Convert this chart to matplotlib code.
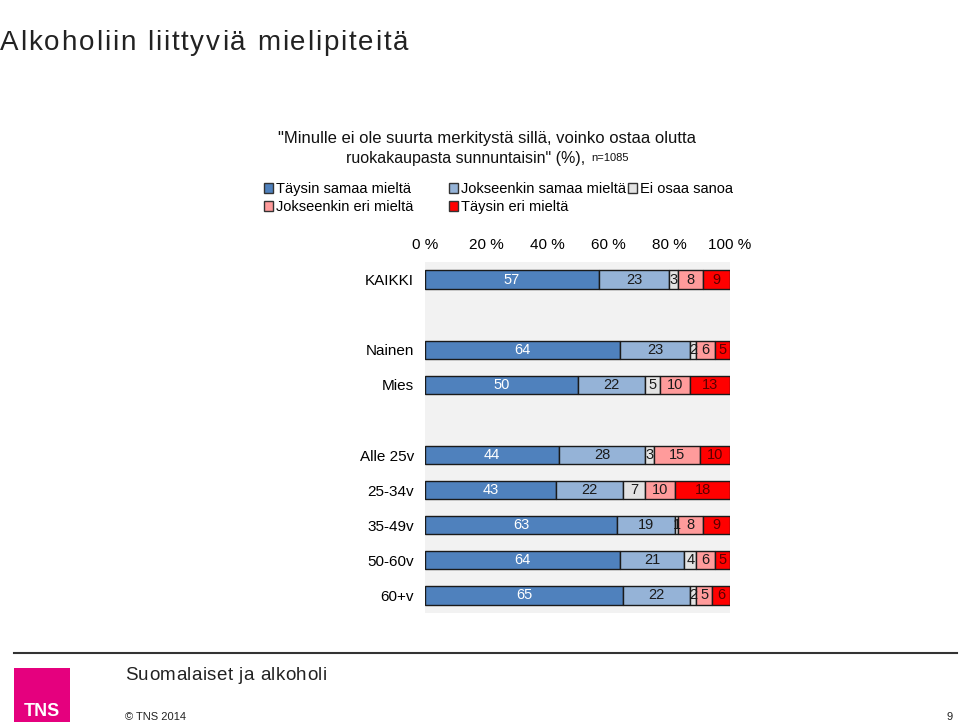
import matplotlib
matplotlib.use("Agg")
import matplotlib.pyplot as plt
from matplotlib.patches import Rectangle
import numpy as np

plt.rcParams["font.family"] = ["Liberation Sans", "DejaVu Sans"]

categories = ["KAIKKI", "", "Nainen", "Mies", "", "Alle 25v", "25-34v", "35-49v", "50-60v", "60+v"]
series_names = ["Täysin samaa mieltä", "Jokseenkin samaa mieltä", "Ei osaa sanoa",
                "Jokseenkin eri mieltä", "Täysin eri mieltä"]
taysin_samaa = [57, None, 64, 50, None, 44, 43, 63, 64, 65]
jokseenkin_samaa = [23, None, 23, 22, None, 28, 22, 19, 21, 22]
ei_osaa = [3, None, 2, 5, None, 3, 7, 1, 4, 2]
jokseenkin_eri = [8, None, 6, 10, None, 15, 10, 8, 6, 5]
taysin_eri = [9, None, 5, 13, None, 10, 18, 9, 5, 6]
xticks = [0, 20, 40, 60, 80, 100]

colors = ["#4F81BD", "#95B3D7", "#E3E3E3", "#FF9B9B", "#FF0000"]
text_colors = ["white", "#1a1a1a", "#1a1a1a", "#1a1a1a", "#5a0000"]

fig = plt.figure(figsize=(9.6, 7.24), dpi=100)
ax = fig.add_axes([425/960, 1-613/724, 305/960, 351/724])
ax.set_facecolor("#F2F2F2")

series = [taysin_samaa, jokseenkin_samaa, ei_osaa, jokseenkin_eri, taysin_eri]
y = np.arange(len(categories))
for i, cat in enumerate(categories):
    if taysin_samaa[i] is None:
        continue
    vals = [s[i] for s in series]
    total = sum(vals)
    left = 0.0
    for j, v in enumerate(vals):
        w = v / total * 100
        ax.barh(y[i], w, left=left, height=0.52, color=colors[j],
                edgecolor="#1a1a1a", linewidth=1.0)
        ax.text(left + w/2, y[i], str(v), ha="center", va="center",
                fontsize=10.5, color=text_colors[j])
        left += w

ax.set_xlim(0, 100)
ax.set_ylim(len(categories) - 0.5, -0.5)
ax.set_yticks([k for k, c in enumerate(categories) if c])
ax.set_yticklabels([c for c in categories if c], fontsize=11)
ax.set_xticks(xticks)
ax.set_xticklabels([f"{t} %" for t in xticks], fontsize=11)
ax.xaxis.tick_top()
ax.tick_params(length=0)
ax.tick_params(axis="x", pad=7)
ax.tick_params(axis="y", pad=8)
for s in ax.spines.values():
    s.set_visible(False)

# legend
handles = [Rectangle((0, 0), 1, 1, facecolor=c, edgecolor="#333333", linewidth=1) for c in colors]
order = [0, 3, 1, 4]
leg_kw = dict(frameon=False, fontsize=10.5, handlelength=0.65, handleheight=0.65,
              handletextpad=0.2, labelspacing=0.3, borderpad=0, borderaxespad=0)
fig.legend([handles[k] for k in order], [series_names[k] for k in order],
           loc="upper left", bbox_to_anchor=(264/960, 1-182/724), ncol=2,
           columnspacing=2.4, **leg_kw)
fig.legend([handles[2]], [series_names[2]],
           loc="upper left", bbox_to_anchor=(628/960, 1-182/724), ncol=1, **leg_kw)

# letter-spaced text helper
fig.canvas.draw()
renderer = fig.canvas.get_renderer()

def spaced_text(x_px, y_px, s, size, spacing_px, color="#222222"):
    x = x_px
    for ch in s:
        t = fig.text(x / 960, 1 - y_px / 724, ch, fontsize=size, color=color,
                     ha="left", va="center")
        bb = t.get_window_extent(renderer)
        if ch == " ":
            w = size * 100 / 72 * 0.28
        else:
            w = bb.width
        x += w + spacing_px

spaced_text(0, 43, "Alkoholiin liittyviä mielipiteitä", 20, 1.85)
spaced_text(125, 675, "Suomalaiset ja alkoholi", 13.5, 0.45)

fig.text(487/960, 1-139/724, '"Minulle ei ole suurta merkitystä sillä, voinko ostaa olutta',
         fontsize=12, ha="center", va="center", color="#111111")
fig.text(585/960, 1-158/724, 'ruokakaupasta sunnuntaisin" (%),', fontsize=11.5,
         ha="right", va="center", color="#111111")
fig.text(591/960, 1-158/724, "n=1085", fontsize=8, ha="left", va="center", color="#111111")

# footer
fig.add_artist(plt.Line2D([14/960, 957/960], [1-653/724, 1-653/724], color="#333333", linewidth=1.5))
fig.add_artist(Rectangle((14/960, 1-722/724), 56/960, 54/724, facecolor="#E5007E",
                         edgecolor="none", transform=fig.transFigure))
fig.text(42/960, 1-712/724, "TNS", fontsize=13, color="white", ha="center", va="center",
         fontweight="bold")
fig.text(125/960, 1-717/724, "© TNS 2014", fontsize=8, ha="left", va="center", color="#222222")
fig.text(953/960, 1-717/724, "9", fontsize=8, ha="right", va="center", color="#222222")

fig.savefig("out.png", dpi=100)
